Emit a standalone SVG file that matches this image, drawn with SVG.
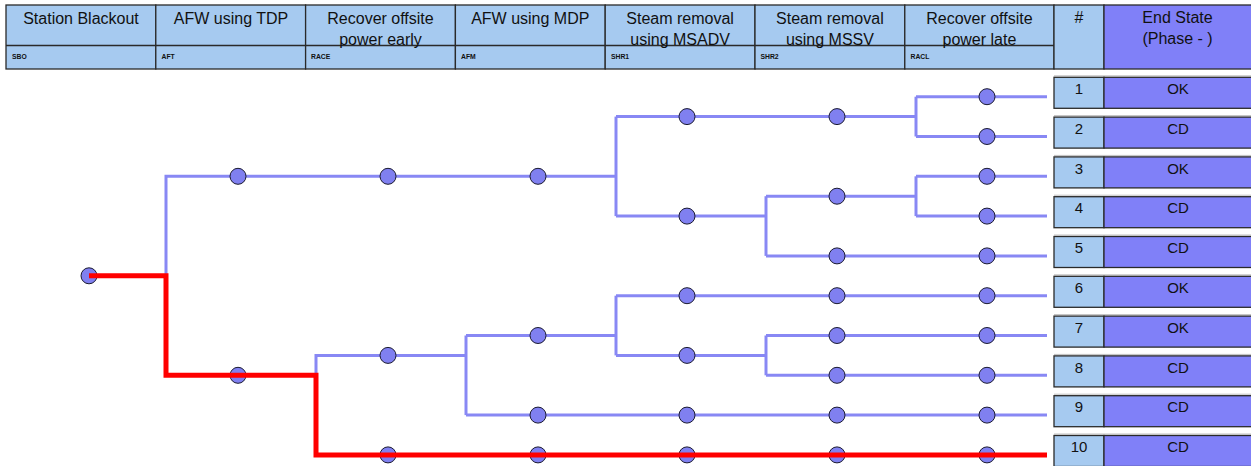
<svg xmlns="http://www.w3.org/2000/svg" width="1251" height="466" viewBox="0 0 1251 466">
<style>
.hb{fill:#a6caf0;stroke:#2a2a2a;stroke-width:1.3}
.hp{fill:#8080f8;stroke:#2a2a2a;stroke-width:1.3}
.ht{font-family:"Liberation Sans",Arial,sans-serif;font-size:16px;fill:#111;text-anchor:middle}
.hs{font-family:"Liberation Sans",Arial,sans-serif;font-size:6.8px;fill:#111;font-weight:bold}
.et{font-family:"Liberation Sans",Arial,sans-serif;font-size:15px;fill:#111;text-anchor:middle}
.bl{fill:none;stroke:#8888f4;stroke-width:3}
.rd{fill:none;stroke:#ff0000;stroke-width:5;stroke-linejoin:miter}
.nd{fill:#8080f0;stroke:#1a1a30;stroke-width:1}
.sh{stroke:#c0c0c0;stroke-width:1}
</style>
<g id="header">
<rect class="hb" x="6" y="5" width="149.8" height="64"/>
<rect class="hb" x="155.8" y="5" width="149.8" height="64"/>
<rect class="hb" x="305.6" y="5" width="149.8" height="64"/>
<rect class="hb" x="455.4" y="5" width="149.8" height="64"/>
<rect class="hb" x="605.2" y="5" width="149.8" height="64"/>
<rect class="hb" x="755" y="5" width="149.8" height="64"/>
<rect class="hb" x="904.8" y="5" width="149.2" height="64"/>
<rect class="hb" x="1054" y="5" width="50" height="64"/>
<rect class="hp" x="1104" y="5" width="150" height="64"/>
<line x1="6" y1="45.5" x2="1054" y2="45.5" stroke="#2a2a2a" stroke-width="1.3"/>
<text class="ht" x="81" y="24">Station Blackout</text>
<text class="ht" x="231" y="24">AFW using TDP</text>
<text class="ht" x="380.5" y="24">Recover offsite</text>
<text class="ht" x="380.5" y="45">power early</text>
<text class="ht" x="530.3" y="24">AFW using MDP</text>
<text class="ht" x="680.1" y="24">Steam removal</text>
<text class="ht" x="680.1" y="45">using MSADV</text>
<text class="ht" x="829.9" y="24">Steam removal</text>
<text class="ht" x="829.9" y="45">using MSSV</text>
<text class="ht" x="979.4" y="24">Recover offsite</text>
<text class="ht" x="979.4" y="45">power late</text>
<text class="ht" x="1079" y="23">#</text>
<text class="ht" x="1177.5" y="23">End State</text>
<text class="ht" x="1177.5" y="44">(Phase - )</text>
<text class="hs" x="12" y="59">SBO</text>
<text class="hs" x="161.5" y="59">AFT</text>
<text class="hs" x="311" y="59">RACE</text>
<text class="hs" x="461" y="59">AFM</text>
<text class="hs" x="611" y="59">SHR1</text>
<text class="hs" x="760.5" y="59">SHR2</text>
<text class="hs" x="910.5" y="59">RACL</text>
</g>
<g id="connectors">
<path class="bl" d="M166,275.8 V176.3 H616"/>
<path class="bl" d="M616,116.6 V216.1"/>
<path class="bl" d="M616,116.6 H916"/>
<path class="bl" d="M916,96.7 V136.5"/>
<path class="bl" d="M916,96.7 H1047"/>
<path class="bl" d="M916,136.5 H1047"/>
<path class="bl" d="M616,216.1 H766"/>
<path class="bl" d="M766,196.2 V255.9"/>
<path class="bl" d="M766,196.2 H916"/>
<path class="bl" d="M916,176.3 V216.1"/>
<path class="bl" d="M916,176.3 H1047"/>
<path class="bl" d="M916,216.1 H1047"/>
<path class="bl" d="M766,255.9 H1047"/>
<path class="bl" d="M316,375.3 V355.4 H466"/>
<path class="bl" d="M466,335.5 V415.1"/>
<path class="bl" d="M466,335.5 H616"/>
<path class="bl" d="M616,295.7 V355.4"/>
<path class="bl" d="M616,295.7 H1047"/>
<path class="bl" d="M616,355.4 H766"/>
<path class="bl" d="M766,335.5 V375.3"/>
<path class="bl" d="M766,335.5 H1047"/>
<path class="bl" d="M766,375.3 H1047"/>
<path class="bl" d="M466,415.1 H1047"/>
</g>
<g id="n-SBO"><circle class="nd" cx="89" cy="275.8" r="8"/></g>
<g id="n-AFT-s"><circle class="nd" cx="238" cy="176.3" r="8"/></g>
<g id="n-AFT-f"><circle class="nd" cx="238" cy="375.3" r="8"/></g>
<g id="n-RACE-1"><circle class="nd" cx="388" cy="176.3" r="8"/></g>
<g id="n-RACE-2"><circle class="nd" cx="388" cy="355.4" r="8"/></g>
<g id="n-RACE-3"><circle class="nd" cx="388" cy="454.9" r="8"/></g>
<g id="n-AFM-1"><circle class="nd" cx="538" cy="176.3" r="8"/></g>
<g id="n-AFM-2"><circle class="nd" cx="538" cy="335.5" r="8"/></g>
<g id="n-AFM-3"><circle class="nd" cx="538" cy="415.1" r="8"/></g>
<g id="n-AFM-4"><circle class="nd" cx="538" cy="454.9" r="8"/></g>
<g id="n-SHR1-1"><circle class="nd" cx="687" cy="116.6" r="8"/></g>
<g id="n-SHR1-2"><circle class="nd" cx="687" cy="216.1" r="8"/></g>
<g id="n-SHR1-3"><circle class="nd" cx="687" cy="295.7" r="8"/></g>
<g id="n-SHR1-4"><circle class="nd" cx="687" cy="355.4" r="8"/></g>
<g id="n-SHR1-5"><circle class="nd" cx="687" cy="415.1" r="8"/></g>
<g id="n-SHR1-6"><circle class="nd" cx="687" cy="454.9" r="8"/></g>
<g id="n-SHR2-1"><circle class="nd" cx="837" cy="116.6" r="8"/></g>
<g id="n-SHR2-2"><circle class="nd" cx="837" cy="196.2" r="8"/></g>
<g id="n-SHR2-3"><circle class="nd" cx="837" cy="255.9" r="8"/></g>
<g id="n-SHR2-4"><circle class="nd" cx="837" cy="295.7" r="8"/></g>
<g id="n-SHR2-5"><circle class="nd" cx="837" cy="335.5" r="8"/></g>
<g id="n-SHR2-6"><circle class="nd" cx="837" cy="375.3" r="8"/></g>
<g id="n-SHR2-7"><circle class="nd" cx="837" cy="415.1" r="8"/></g>
<g id="n-SHR2-8"><circle class="nd" cx="837" cy="454.9" r="8"/></g>
<g id="n-RACL-1"><circle class="nd" cx="987" cy="96.7" r="8"/></g>
<g id="n-RACL-2"><circle class="nd" cx="987" cy="136.5" r="8"/></g>
<g id="n-RACL-3"><circle class="nd" cx="987" cy="176.3" r="8"/></g>
<g id="n-RACL-4"><circle class="nd" cx="987" cy="216.1" r="8"/></g>
<g id="n-RACL-5"><circle class="nd" cx="987" cy="255.9" r="8"/></g>
<g id="n-RACL-6"><circle class="nd" cx="987" cy="295.7" r="8"/></g>
<g id="n-RACL-7"><circle class="nd" cx="987" cy="335.5" r="8"/></g>
<g id="n-RACL-8"><circle class="nd" cx="987" cy="375.3" r="8"/></g>
<g id="n-RACL-9"><circle class="nd" cx="987" cy="415.1" r="8"/></g>
<g id="n-RACL-10"><circle class="nd" cx="987" cy="454.9" r="8"/></g>
<g id="connectors-highlight">
<path class="rd" d="M89,275.8 H166 V375.3 H316 V454.9 H1047"/>
</g>
<g id="end-states">
<g id="es-1"><line class="sh" x1="1054" y1="75.8" x2="1252" y2="75.8"/><rect class="hb" x="1054" y="77.3" width="50" height="31"/><rect class="hp" x="1104" y="77.3" width="150" height="31"/><text class="et" x="1079" y="94">1</text><text class="et" x="1178" y="94">OK</text></g>
<g id="es-2"><line class="sh" x1="1054" y1="115.6" x2="1252" y2="115.6"/><rect class="hb" x="1054" y="117.1" width="50" height="31"/><rect class="hp" x="1104" y="117.1" width="150" height="31"/><text class="et" x="1079" y="133.8">2</text><text class="et" x="1178" y="133.8">CD</text></g>
<g id="es-3"><line class="sh" x1="1054" y1="155.4" x2="1252" y2="155.4"/><rect class="hb" x="1054" y="156.9" width="50" height="31"/><rect class="hp" x="1104" y="156.9" width="150" height="31"/><text class="et" x="1079" y="173.6">3</text><text class="et" x="1178" y="173.6">OK</text></g>
<g id="es-4"><line class="sh" x1="1054" y1="195.2" x2="1252" y2="195.2"/><rect class="hb" x="1054" y="196.7" width="50" height="31"/><rect class="hp" x="1104" y="196.7" width="150" height="31"/><text class="et" x="1079" y="213.4">4</text><text class="et" x="1178" y="213.4">CD</text></g>
<g id="es-5"><line class="sh" x1="1054" y1="235" x2="1252" y2="235"/><rect class="hb" x="1054" y="236.5" width="50" height="31"/><rect class="hp" x="1104" y="236.5" width="150" height="31"/><text class="et" x="1079" y="253.2">5</text><text class="et" x="1178" y="253.2">CD</text></g>
<g id="es-6"><line class="sh" x1="1054" y1="274.8" x2="1252" y2="274.8"/><rect class="hb" x="1054" y="276.3" width="50" height="31"/><rect class="hp" x="1104" y="276.3" width="150" height="31"/><text class="et" x="1079" y="293">6</text><text class="et" x="1178" y="293">OK</text></g>
<g id="es-7"><line class="sh" x1="1054" y1="314.6" x2="1252" y2="314.6"/><rect class="hb" x="1054" y="316.1" width="50" height="31"/><rect class="hp" x="1104" y="316.1" width="150" height="31"/><text class="et" x="1079" y="332.8">7</text><text class="et" x="1178" y="332.8">OK</text></g>
<g id="es-8"><line class="sh" x1="1054" y1="354.4" x2="1252" y2="354.4"/><rect class="hb" x="1054" y="355.9" width="50" height="31"/><rect class="hp" x="1104" y="355.9" width="150" height="31"/><text class="et" x="1079" y="372.6">8</text><text class="et" x="1178" y="372.6">CD</text></g>
<g id="es-9"><line class="sh" x1="1054" y1="394.2" x2="1252" y2="394.2"/><rect class="hb" x="1054" y="395.7" width="50" height="31"/><rect class="hp" x="1104" y="395.7" width="150" height="31"/><text class="et" x="1079" y="412.4">9</text><text class="et" x="1178" y="412.4">CD</text></g>
<g id="es-10"><line class="sh" x1="1054" y1="434" x2="1252" y2="434"/><rect class="hb" x="1054" y="435.5" width="50" height="31"/><rect class="hp" x="1104" y="435.5" width="150" height="31"/><text class="et" x="1079" y="452.2">10</text><text class="et" x="1178" y="452.2">CD</text></g>
</g>
</svg>
